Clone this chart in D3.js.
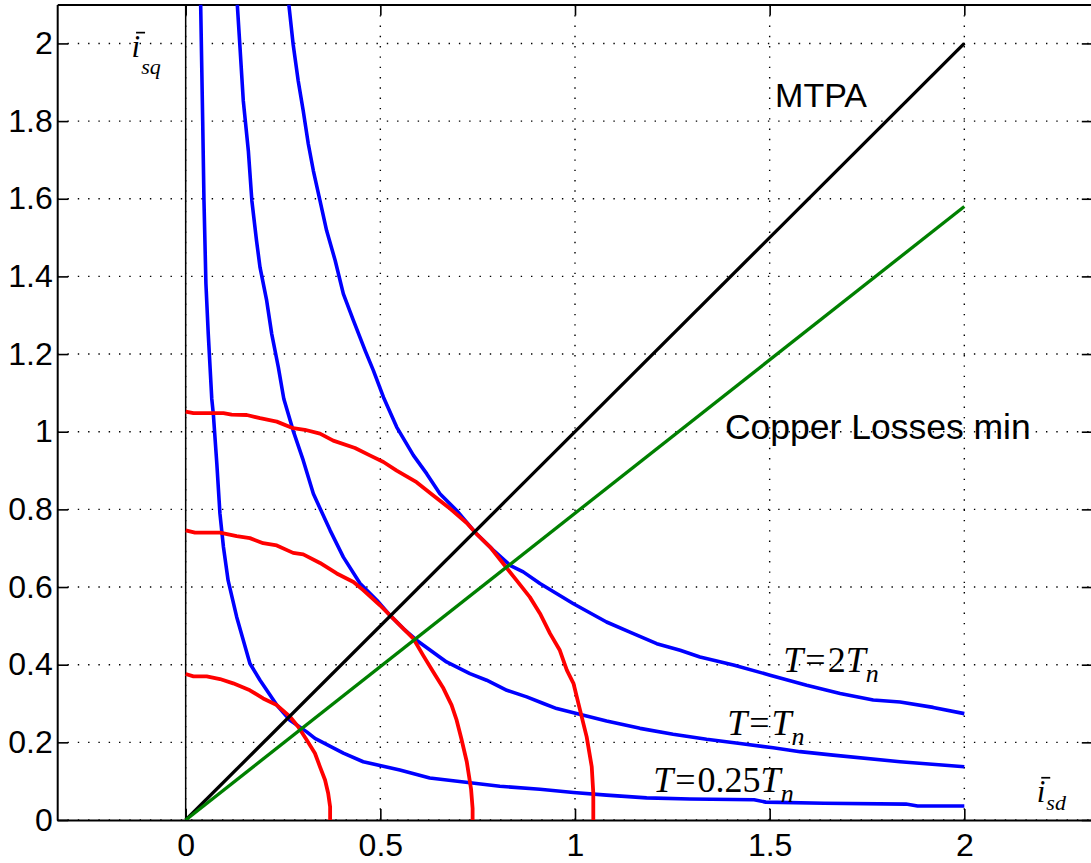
<!DOCTYPE html>
<html>
<head>
<meta charset="utf-8">
<script src="https://cdn.jsdelivr.net/npm/d3@7/dist/d3.min.js"></script>
<style>
  html, body { margin: 0; padding: 0; background: #fff; }
  svg { display: block; }
  .tick-label { font-family: "Liberation Sans", Arial, sans-serif; font-size: 32px; fill: #000; }
  .note { font-family: "Liberation Sans", Arial, sans-serif; fill: #000; }
  .math { font-family: "Liberation Serif", "Times New Roman", serif; fill: #000; }
</style>
</head>
<body>
<svg id="chart" width="1091" height="863"></svg>
<script>
// Axis ticks
const xTicks = [0, 0.5, 1, 1.5, 2];
const xTickLabels = ["0", "0.5", "1", "1.5", "2"];
const yTicks = [0, 0.2, 0.4, 0.6, 0.8, 1, 1.2, 1.4, 1.6, 1.8, 2];
const yTickLabels = ["0", "0.2", "0.4", "0.6", "0.8", "1", "1.2", "1.4", "1.6", "1.8", "2"];

// Constant-torque curves (i_sd, i_sq)
const torque025 = [[0.0385,2.10],[0.0437,1.80],[0.047,1.595],[0.052,1.381],[0.058,1.252],[0.067,1.085],
  [0.071,1.046],[0.080,0.918],[0.088,0.789],[0.097,0.703],[0.109,0.617],[0.131,0.523],[0.165,0.403],
  [0.191,0.360],[0.234,0.296],[0.268,0.257],[0.311,0.227],[0.332,0.210],[0.405,0.172],[0.456,0.150],
  [0.550,0.129],[0.627,0.108],[0.807,0.087],[0.910,0.079],[0.996,0.071],[1.081,0.064],[1.184,0.057],
  [1.295,0.054],[1.46,0.052],[1.49,0.046],[1.64,0.043],[1.85,0.041],[1.88,0.036],[2.0,0.036]];
const torque1 = [[0.1326,2.10],[0.139,1.998],[0.148,1.852],[0.161,1.723],[0.170,1.595],[0.182,1.492],
  [0.191,1.423],[0.208,1.338],[0.221,1.252],[0.238,1.166],[0.252,1.085],[0.276,1.003],[0.302,0.926],
  [0.328,0.840],[0.371,0.746],[0.405,0.677],[0.448,0.609],[0.491,0.566],[0.525,0.527],[0.559,0.493],
  [0.593,0.463],[0.670,0.407],[0.730,0.377],[0.773,0.360],[0.825,0.334],[0.876,0.317],[0.919,0.300],
  [0.953,0.287],[1.004,0.274],[1.081,0.255],[1.167,0.236],[1.252,0.221],[1.338,0.208],[1.424,0.197],
  [1.509,0.186],[1.578,0.176],[1.663,0.167],[1.835,0.150],[2.0,0.137]];
const torque2 = [[0.265,2.10],[0.276,1.998],[0.289,1.904],[0.302,1.826],[0.315,1.741],[0.328,1.672],
  [0.345,1.595],[0.362,1.518],[0.384,1.441],[0.405,1.355],[0.431,1.286],[0.461,1.209],[0.482,1.158],
  [0.508,1.089],[0.542,1.012],[0.585,0.939],[0.619,0.892],[0.653,0.840],[0.696,0.797],[0.747,0.737],
  [0.790,0.695],[0.833,0.656],[0.867,0.639],[0.910,0.609],[0.996,0.557],[1.081,0.510],[1.141,0.484],
  [1.210,0.454],[1.270,0.437],[1.321,0.420],[1.407,0.399],[1.501,0.373],[1.595,0.347],[1.681,0.326],
  [1.766,0.309],[1.835,0.304],[1.92,0.290],[2.0,0.274]];

// Current-limit curves
const current1 = [[0,0.376],[0.02,0.370],[0.054,0.370],[0.088,0.363],[0.122,0.352],[0.165,0.334],
  [0.199,0.313],[0.234,0.296],[0.268,0.266],[0.289,0.240],[0.311,0.206],[0.332,0.172],[0.345,0.137],
  [0.358,0.103],[0.366,0.069],[0.371,0.034],[0.371,0]];
const current2 = [[0,0.746],[0.024,0.740],[0.088,0.740],[0.131,0.731],[0.165,0.726],[0.199,0.713],
  [0.234,0.707],[0.276,0.688],[0.302,0.684],[0.345,0.662],[0.388,0.635],[0.431,0.613],[0.456,0.592],
  [0.499,0.553],[0.525,0.527],[0.559,0.493],[0.585,0.467],[0.610,0.424],[0.636,0.381],[0.662,0.339],
  [0.683,0.296],[0.696,0.257],[0.708,0.21],[0.722,0.15],[0.733,0.08],[0.737,0.03],[0.737,0]];
const current3 = [[0,1.052],[0.02,1.048],[0.097,1.048],[0.118,1.044],[0.157,1.043],[0.191,1.035],
  [0.234,1.026],[0.276,1.009],[0.306,1.005],[0.345,0.995],[0.379,0.977],[0.435,0.958],[0.473,0.939],
  [0.508,0.922],[0.542,0.900],[0.593,0.870],[0.636,0.836],[0.679,0.802],[0.722,0.765],[0.747,0.737],
  [0.782,0.703],[0.816,0.660],[0.850,0.617],[0.884,0.574],[0.910,0.532],[0.936,0.480],[0.961,0.437],
  [0.979,0.386],[0.996,0.352],[1.013,0.283],[1.030,0.214],[1.043,0.137],[1.047,0.069],[1.047,0]];

// Optimal trajectories
const mtpa = [[0, 0], [2, 2]];
const copperMin = [[0, 0], [2, 1.58]];

const svg = d3.select("#chart");
const x = d3.scaleLinear().domain([-0.33, 2.33]).range([57.2, 1092.8]);
const y = d3.scaleLinear().domain([0, 2.1]).range([820, 4.6]);
const [x0, x1] = x.range();
const [yb, yt] = y.range();

svg.append("defs").append("clipPath").attr("id", "plot-clip")
  .append("rect").attr("x", x0).attr("y", yt).attr("width", x1 - x0).attr("height", yb - yt);

// Dotted grid
const grid = svg.append("g").attr("stroke", "#000").attr("stroke-width", 1.4)
  .attr("stroke-dasharray", "1.4 8.9");
grid.selectAll(".gx").data(xTicks).join("line")
  .attr("x1", d => x(d)).attr("x2", d => x(d)).attr("y1", yb).attr("y2", yt);
grid.selectAll(".gy").data(yTicks).join("line")
  .attr("x1", x0).attr("x2", x1).attr("y1", d => y(d)).attr("y2", d => y(d));

// Vertical i_sd = 0 line
svg.append("line").attr("x1", x(0)).attr("x2", x(0)).attr("y1", yb).attr("y2", yt)
  .attr("stroke", "#000").attr("stroke-width", 1.5);

// Axes with inward ticks
const tickLen = 11;
const styleAxis = g => {
  g.select(".domain").attr("stroke-width", 2);
  g.selectAll(".tick line").attr("stroke-width", 1.6);
};
svg.append("g").attr("transform", `translate(0,${yb})`)
  .call(d3.axisBottom(x).tickValues(xTicks).tickFormat((d, i) => xTickLabels[i])
    .tickSizeInner(-tickLen).tickSizeOuter(0).tickPadding(13))
  .call(styleAxis)
  .call(g => g.selectAll(".tick text").attr("class", "tick-label").attr("font-size", null).attr("font-family", null));
svg.append("g").attr("transform", `translate(${x0},0)`)
  .call(d3.axisLeft(y).tickValues(yTicks).tickFormat((d, i) => yTickLabels[i])
    .tickSizeInner(-tickLen).tickSizeOuter(0).tickPadding(4.5))
  .call(styleAxis)
  .call(g => g.selectAll(".tick text").attr("class", "tick-label").attr("font-size", null).attr("font-family", null));
svg.append("g").attr("transform", `translate(0,${yt})`)
  .call(d3.axisTop(x).tickValues(xTicks).tickFormat("").tickSizeInner(-tickLen).tickSizeOuter(0))
  .call(styleAxis);
svg.append("g").attr("transform", `translate(${x1},0)`)
  .call(d3.axisRight(y).tickValues(yTicks).tickFormat("").tickSizeInner(-tickLen).tickSizeOuter(0))
  .call(styleAxis);

// Curves
const line = d3.line().x(d => x(d[0])).y(d => y(d[1]));
const curves = svg.append("g").attr("clip-path", "url(#plot-clip)").attr("fill", "none")
  .attr("stroke-linejoin", "round").attr("stroke-linecap", "butt");
const series = [
  { data: torque025, color: "#0000ff", width: 3.6 },
  { data: torque1, color: "#0000ff", width: 3.6 },
  { data: torque2, color: "#0000ff", width: 3.6 },
  { data: current1, color: "#ff0000", width: 3.8 },
  { data: current2, color: "#ff0000", width: 3.8 },
  { data: current3, color: "#ff0000", width: 3.8 },
  { data: mtpa, color: "#000000", width: 3.3 },
  { data: copperMin, color: "#008000", width: 3.3 }
];
curves.selectAll("path").data(series).join("path")
  .attr("d", d => line(d.data)).attr("stroke", d => d.color).attr("stroke-width", d => d.width);

// Annotations
svg.append("text").attr("class", "note").attr("font-size", 34)
  .attr("x", x(1.514)).attr("y", y(1.837)).text("MTPA");
svg.append("text").attr("class", "note").attr("font-size", 35.5)
  .attr("x", x(1.385)).attr("y", y(0.980)).text("Copper Losses min");

function torqueLabel(px, py, coef) {
  const t = svg.append("text").attr("class", "math").attr("x", x(px)).attr("y", y(py)).attr("font-size", 36);
  t.append("tspan").attr("font-style", "italic").text("T");
  t.append("tspan").attr("dx", 2).text("=");
  if (coef) t.append("tspan").attr("dx", 2).text(coef);
  t.append("tspan").attr("font-style", "italic").attr("dx", coef ? 0 : 2).text("T");
  t.append("tspan").attr("font-style", "italic").attr("font-size", 26).attr("dy", 10).text("n");
}
torqueLabel(1.535, 0.382, "2");
torqueLabel(1.391, 0.219, "");
torqueLabel(1.201, 0.073, "0.25");

// Axis symbols: i with bar and subscript
function currentSymbol(px, py, sub, subDx, subDy) {
  const bx = x(px), by = y(py);
  const t = svg.append("text").attr("class", "math").attr("x", bx).attr("y", by).attr("font-size", 31);
  t.append("tspan").attr("font-style", "italic").text("i");
  t.append("tspan").attr("font-style", "italic").attr("font-size", 22)
    .attr("dx", subDx).attr("dy", subDy).text(sub);
  svg.append("line").attr("x1", bx + 4.5).attr("x2", bx + 13.5)
    .attr("y1", by - 24).attr("y2", by - 24).attr("stroke", "#000").attr("stroke-width", 1.7);
}
currentSymbol(-0.139, 1.966, "sq", 1, 17);
currentSymbol(2.186, 0.047, "sd", 1, 8.5);
</script>
</body>
</html>
